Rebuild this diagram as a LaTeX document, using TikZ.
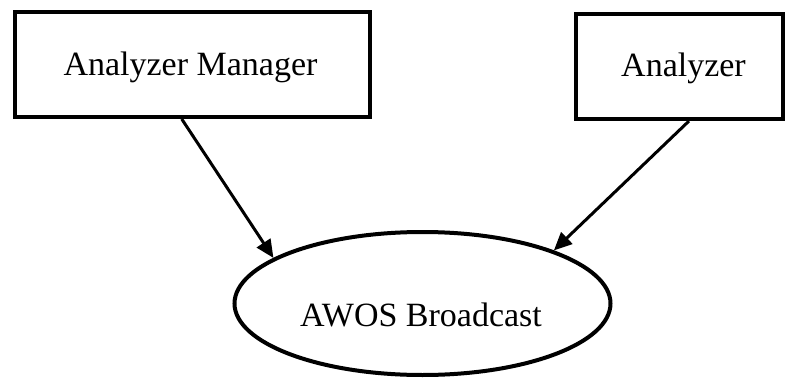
\documentclass[tikz,border=0pt]{standalone}
\usepackage{fontspec}
\setmainfont{Liberation Serif}
\usetikzlibrary{shapes.geometric,arrows.meta,calc}
\begin{document}
\begin{tikzpicture}[x=1pt,y=-1pt,
  box/.style={draw=black,line width=4pt,rectangle,inner sep=0pt,fill=white},
  oval/.style={draw=black,line width=4pt,ellipse,inner sep=0pt},
  lbl/.style={font=\fontsize{34}{40}\selectfont,inner sep=0pt},
  conn/.style={line width=3pt,-{Triangle[length=18pt,width=16pt]}}]
\useasboundingbox[fill=white] (0,0) rectangle (785,380);
\node[box,minimum width=355pt,minimum height=105.5pt] (am) at (192.5,64.25) {};
\node[lbl] (amt) at (190.5,67) {Analyzer Manager};
\node[box,minimum width=207.5pt,minimum height=105pt] (an) at (679.25,66.5) {};
\node[lbl] (ant) at (683.5,68) {Analyzer};
\node[oval,minimum width=376pt,minimum height=143pt] (aw) at (422.5,303.5) {};
\node[lbl] (awt) at (421,315) {AWOS Broadcast};
\draw[conn] ($(am.south west)!0.47!(am.south east)$) -- (aw.163.7);
\draw[conn] ($(an.south west)!0.546!(an.south east)$) -- (aw.22.7);
\end{tikzpicture}
\end{document}
